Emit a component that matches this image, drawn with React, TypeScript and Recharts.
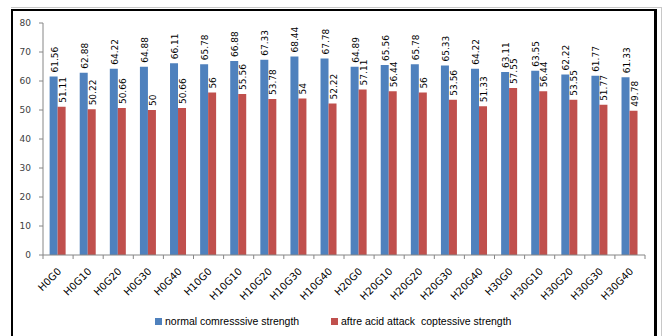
import React from 'react';
import { BarChart, Bar, XAxis, YAxis, LabelList } from 'recharts';

const mixes = [
  'H0G0', 'H0G10', 'H0G20', 'H0G30', 'H0G40',
  'H10G0', 'H10G10', 'H10G20', 'H10G30', 'H10G40',
  'H20G0', 'H20G10', 'H20G20', 'H20G30', 'H20G40',
  'H30G0', 'H30G10', 'H30G20', 'H30G30', 'H30G40',
];

const normalStrength = [
  61.56, 62.88, 64.22, 64.88, 66.11,
  65.78, 66.88, 67.33, 68.44, 67.78,
  64.89, 65.56, 65.78, 65.33, 64.22,
  63.11, 63.55, 62.22, 61.77, 61.33,
];

const acidStrength = [
  51.11, 50.22, 50.66, 50, 50.66,
  56, 55.56, 53.78, 54, 52.22,
  57.11, 56.44, 56, 53.56, 51.33,
  57.55, 56.44, 53.55, 51.77, 49.78,
];

const yTicks = [0, 10, 20, 30, 40, 50, 60, 70, 80];

const seriesNames = ['normal comresssive strength', 'aftre acid attack  coptessive strength'];
const seriesColors = ['#4F81BD', '#C0504D'];

const data = mixes.map((mix, i) => ({
  mix,
  normal: normalStrength[i],
  acid: acidStrength[i],
}));

const W = 662;
const H = 336;
const PLOT_LEFT = 43;
const PLOT_RIGHT = 645;
const PLOT_TOP = 23;
const PLOT_BOTTOM = 255;
const Y_AXIS_W = 30;
const band = (PLOT_RIGHT - PLOT_LEFT) / mixes.length;
const AXIS_GRAY = '#868686';

// category ticks sit on the band boundaries, labels slanted under each group
const MixTick = (props: any) => {
  const { x, payload, index } = props;
  const half = band / 2;
  const tx = x + 4;
  const ty = PLOT_BOTTOM + 17;
  return (
    <g>
      <line x1={x - half} x2={x - half} y1={PLOT_BOTTOM} y2={PLOT_BOTTOM + 4} stroke={AXIS_GRAY} />
      {index === mixes.length - 1 && (
        <line x1={x + half} x2={x + half} y1={PLOT_BOTTOM} y2={PLOT_BOTTOM + 4} stroke={AXIS_GRAY} />
      )}
      <text
        x={tx}
        y={ty}
        transform={`rotate(-45 ${tx} ${ty})`}
        textAnchor="end"
        fontSize={10}
        fontFamily="DejaVu Sans"
        fill="#000"
      >
        {payload.value}
      </text>
    </g>
  );
};

// vertical value label above each bar
const ValueLabel = (props: any) => {
  const { x, y, width, value } = props;
  const cx = x + width / 2 + 1;
  const cy = y - 4;
  return (
    <text
      x={cx}
      y={cy}
      transform={`rotate(-90 ${cx} ${cy})`}
      textAnchor="start"
      dominantBaseline="central"
      fontSize={9}
      fontFamily="DejaVu Sans"
      fill="#000"
    >
      {value}
    </text>
  );
};

const App = () => {
  return (
    <div style={{ position: 'absolute', left: 0, top: 0, width: W, height: H, background: '#fff', overflow: 'hidden' }}>
      {/* frame */}
      <div style={{ position: 'absolute', left: 11, top: 7, width: 650, height: 1, background: '#c8c8c8' }} />
      <div style={{ position: 'absolute', left: 661, top: 7, width: 1, height: H - 7, background: '#c8c8c8' }} />
      <div style={{ position: 'absolute', left: 11, top: 9, width: 646, height: 2, background: '#000' }} />
      <div style={{ position: 'absolute', left: 11, top: 9, width: 2, height: H - 9, background: '#000' }} />
      <div style={{ position: 'absolute', left: 654, top: 9, width: 3, height: H - 9, background: '#000' }} />

      <div style={{ position: 'absolute', left: 0, top: 0 }}>
        <BarChart
          width={W}
          height={H}
          data={data}
          margin={{ top: PLOT_TOP, right: W - PLOT_RIGHT, bottom: 0, left: PLOT_LEFT - Y_AXIS_W }}
          barCategoryGap="22%"
          barGap={0}
        >
          <XAxis
            dataKey="mix"
            interval={0}
            height={H - PLOT_BOTTOM}
            axisLine={{ stroke: AXIS_GRAY }}
            tickLine={false}
            tick={<MixTick />}
          />
          <YAxis
            width={Y_AXIS_W}
            domain={[0, 80]}
            ticks={yTicks}
            interval={0}
            axisLine={{ stroke: AXIS_GRAY }}
            tickLine={{ stroke: AXIS_GRAY }}
            tickSize={4}
            tickMargin={8}
            tick={{ fontSize: 9, fontFamily: 'DejaVu Sans', fill: '#404040' }}
          />
          <Bar dataKey="normal" name={seriesNames[0]} fill={seriesColors[0]} isAnimationActive={false}>
            <LabelList dataKey="normal" content={<ValueLabel />} />
          </Bar>
          <Bar dataKey="acid" name={seriesNames[1]} fill={seriesColors[1]} isAnimationActive={false}>
            <LabelList dataKey="acid" content={<ValueLabel />} />
          </Bar>
        </BarChart>
      </div>

      {/* legend */}
      {[155, 331].map((left, i) => (
        <div
          key={seriesNames[i]}
          style={{
            position: 'absolute',
            left,
            top: 314,
            height: 14,
            display: 'flex',
            alignItems: 'center',
            fontFamily: 'Liberation Sans',
            fontSize: 10.5,
            color: '#000',
            whiteSpace: 'pre',
          }}
        >
          <span style={{ width: 7, height: 7, background: seriesColors[i], marginRight: 3 }} />
          {seriesNames[i]}
        </div>
      ))}
    </div>
  );
};

export default App;
